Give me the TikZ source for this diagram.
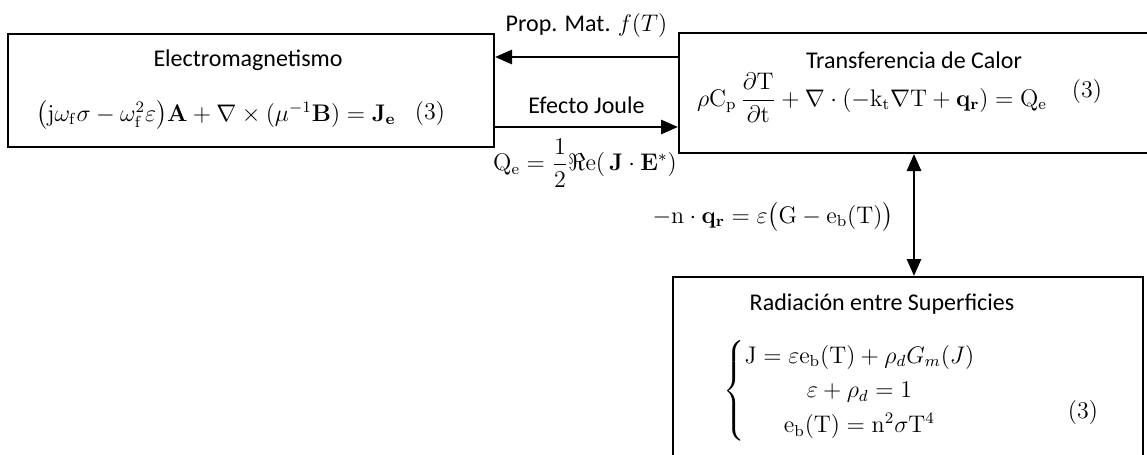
\documentclass[tikz,border=0pt]{standalone}
\usepackage{amsmath, amssymb}
\usepackage[no-math]{fontspec}
\newfontfamily\calibri{Carlito}
\usepackage{xcolor}
\usepackage{tikz}
\usetikzlibrary{arrows.meta, positioning, calc}

\begin{document}
\begin{tikzpicture}[
    x=0.5pt, y=-0.5pt,
    font=\fontsize{12}{14.4}\selectfont,
    block/.style={draw, line width=1pt, rectangle, anchor=north west, inner sep=0pt},
    title/.style={font=\fontsize{12}{14.4}\selectfont\calibri, inner sep=1pt},
    eqn/.style={inner sep=1pt},
    arrow/.style={line width=1.4pt, -{Triangle[length=8.5pt, width=7pt]}},
    darrow/.style={line width=1.4pt, {Triangle[length=8.5pt, width=7pt]}-{Triangle[length=8.5pt, width=7pt]}}
]
\useasboundingbox (0,0) rectangle (1147,455);
\clip (0,0) rectangle (1147,455);

% Blocks
\node (em) [block, minimum width=243pt, minimum height=56.5pt] at (7,33) {};
\node (heat) [block, minimum width=270pt, minimum height=60pt] at (678,32) {};
\node (rad) [block, minimum width=235pt, minimum height=110pt] at (672,276) {};

% Block contents
\node (emtitle) [title] at (248,60) {Electromagnetismo};
\node (emeq) [eqn] at (216,115) {$\bigl(\mathrm{j}\omega_{\mathrm f}\sigma - \omega_{\mathrm f}^2\varepsilon\bigr)\mathbf{A} + \nabla\times(\mu^{-1}\mathbf{B}) = \mathbf{J_e}$};
\node (emnum) [eqn] at (430,114) {(3)};

\node (heattitle) [title] at (914,60) {Transferencia de Calor};
\node (heateq) [eqn] at (872,98) {$\rho\mathrm{C_p}\,\dfrac{\partial\mathrm{T}}{\partial\mathrm{t}} + \nabla\cdot(-\mathrm{k_t}\nabla\mathrm{T} + \mathbf{q_r}) = \mathrm{Q_e}$};
\node (heatnum) [eqn] at (1087,92) {(3)};

\node (radtitle) [title] at (882,304) {Radiaci\'on entre Superficies};
\node (radeq) [eqn] at (850,391) {\renewcommand{\arraystretch}{1.2}$\left\{\begin{array}{@{}c@{}}
    \mathrm{J} = \varepsilon\mathrm{e_b(T)} + \rho_d G_m(J)\\
    \varepsilon + \rho_d = 1\\
    \mathrm{e_b(T)} = \mathrm{n}^2\sigma\mathrm{T}^4
  \end{array}\right.$};
\node (radnum) [eqn] at (1083,413) {(3)};

% Links
\draw[arrow] (heat.west |- 0,57) -- (em.east |- 0,57)
  node (prop) [title, midway, above=8pt] {Prop. Mat. $f(T)$};
\draw[arrow] (em.east |- 0,127) -- (heat.west |- 0,127)
  node (joule) [title, midway, above=5pt] {Efecto Joule};
\node (qe) [eqn] at (585,163) {$\mathrm{Q_e} = \dfrac{1}{2}\Re\mathrm{e}(\,\mathbf{J}\cdot\mathbf{E}^{*})$};
\draw[darrow] (heat.south -| 914,0) -- (rad.north -| 914,0);
\node (qr) [eqn] at (773,217) {$-\mathrm{n}\cdot\mathbf{q_r} = \varepsilon\bigl(\mathrm{G} - \mathrm{e_b}(\mathrm{T})\bigr)$};

\end{tikzpicture}
\end{document}
